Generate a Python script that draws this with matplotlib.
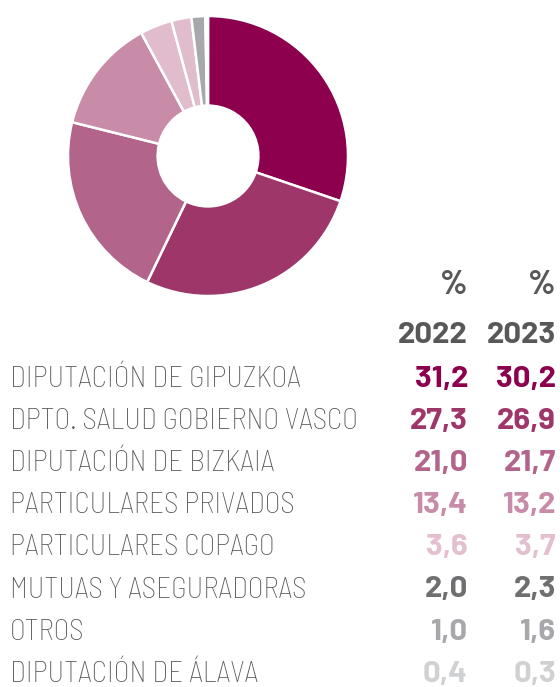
import matplotlib
matplotlib.use('Agg')
import matplotlib.pyplot as plt

# data
labels = ['DIPUTACIÓN DE GIPUZKOA', 'DPTO. SALUD GOBIERNO VASCO', 'DIPUTACIÓN DE BIZKAIA',
          'PARTICULARES PRIVADOS', 'PARTICULARES COPAGO', 'MUTUAS Y ASEGURADORAS',
          'OTROS', 'DIPUTACIÓN DE ÁLAVA']
pct_2022 = [31.2, 27.3, 21.0, 13.4, 3.6, 2.0, 1.0, 0.4]
pct_2023 = [30.2, 26.9, 21.7, 13.2, 3.7, 2.3, 1.6, 0.3]
years = ['2022', '2023']

text_colors = ['#8c004e', '#9e3669', '#b3648a', '#c98ca8', '#e3bfd0', '#6f6f72', '#a7a8ab', '#d0d1d3']
wedge_colors = ['#8c004e', '#9e3669', '#b3648a', '#c98ca8', '#e0bccd', '#e0bccd', '#a7a8ab', '#d0d1d3']
header_color = '#58585a'
label_color = '#58585a'

W, H = 560, 687
fig = plt.figure(figsize=(W / 100, H / 100), dpi=100)

# donut
ax = fig.add_axes([68 / W, 1 - 296 / H, 280 / W, 280 / H])
ax.pie(pct_2023, colors=wedge_colors, startangle=90, counterclock=False,
       radius=1, wedgeprops=dict(width=0.64, edgecolor='white', linewidth=1.8))
ax.set_xlim(-1, 1)
ax.set_ylim(-1, 1)
ax.set_aspect('equal')
ax.axis('off')

def fy(py):
    return 1 - py / H

lab_font = ['Barlow Semi Condensed', 'DejaVu Sans']
num_font = ['Barlow', 'DejaVu Sans']
col_x = [468 / W, 556 / W]
fs_lab = 21
fs_num = 22.5
for cx, yr in zip(col_x, years):
    fig.text(cx, fy(294), '%', ha='right', va='baseline', fontsize=24, fontweight='bold',
             color=header_color, family=num_font)
    fig.text(cx, fy(343), yr, ha='right', va='baseline', fontsize=fs_num, fontweight='bold',
             color=header_color, family=num_font)

row0, step = 387, 42.1
for i, lab in enumerate(labels):
    y = fy(row0 + i * step)
    fig.text(10 / W, y, lab, ha='left', va='baseline', fontsize=fs_lab, fontweight='light',
             color=label_color, family=lab_font)
    fig.text(col_x[0], y, f'{pct_2022[i]:.1f}'.replace('.', ','), ha='right', va='baseline',
             fontsize=fs_num, fontweight='bold', color=text_colors[i], family=num_font)
    fig.text(col_x[1], y, f'{pct_2023[i]:.1f}'.replace('.', ','), ha='right', va='baseline',
             fontsize=fs_num, fontweight='bold', color=text_colors[i], family=num_font)

fig.savefig('out.png', dpi=100)
